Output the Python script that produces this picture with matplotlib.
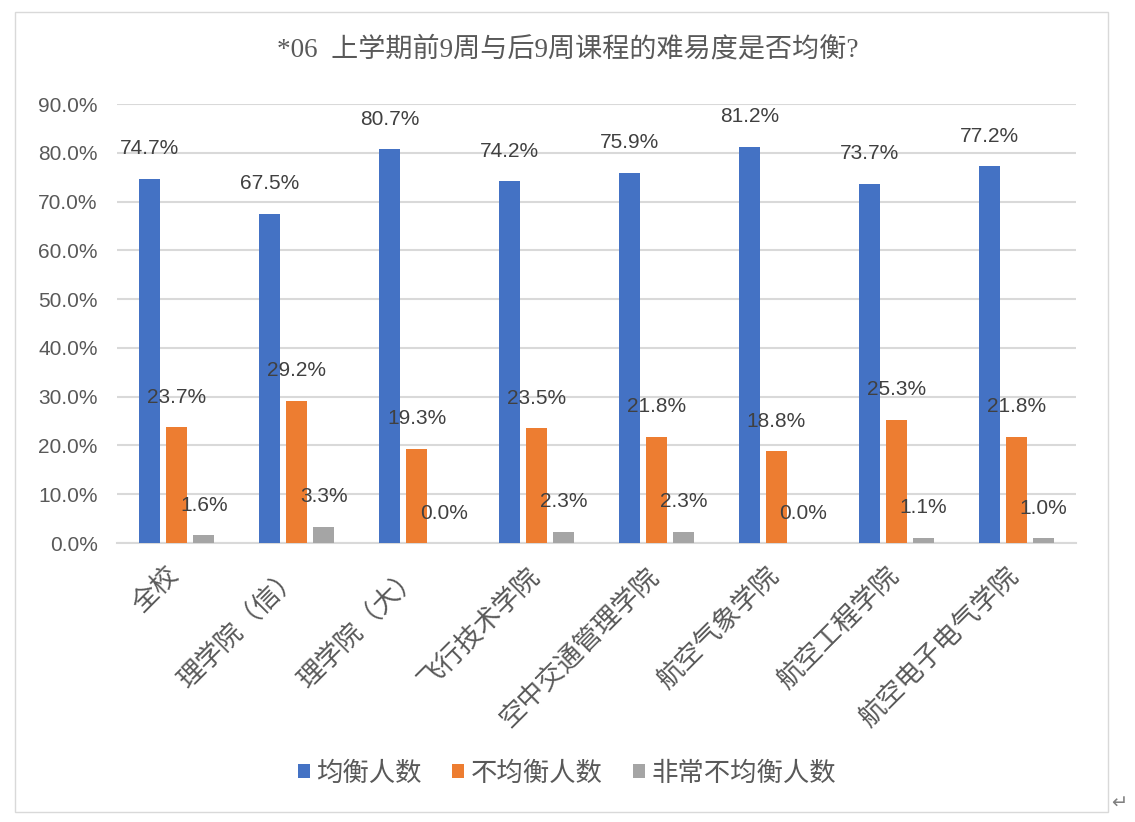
import matplotlib
matplotlib.use("Agg")
import matplotlib.pyplot as plt
import numpy as np
from matplotlib.patches import Rectangle

categories = ["全校", "理学院（信）", "理学院（大）", "飞行技术学院", "空中交通管理学院",
              "航空气象学院", "航空工程学院", "航空电子电气学院"]
series_names = ["均衡人数", "不均衡人数", "非常不均衡人数"]
balanced = [74.7, 67.5, 80.7, 74.2, 75.9, 81.2, 73.7, 77.2]
unbalanced = [23.7, 29.2, 19.3, 23.5, 21.8, 18.8, 25.3, 21.8]
very_unbalanced = [1.6, 3.3, 0.0, 2.3, 2.3, 0.0, 1.1, 1.0]
yticks = [0, 10, 20, 30, 40, 50, 60, 70, 80, 90]
title = "*06  上学期前9周与后9周课程的难易度是否均衡?"

colors = ["#4472C4", "#ED7D31", "#A5A5A5"]
txt = "#595959"
num_font = ["Liberation Sans Narrow", "Liberation Sans", "Noto Sans CJK SC"]
cjk_font = ["Noto Sans CJK SC", "DejaVu Sans"]
title_font = ["Liberation Serif", "Noto Sans CJK SC"]

fig = plt.figure(figsize=(11.35, 8.22), dpi=100)
fig.patches.append(Rectangle((15/1135, 1-812/822), (1108-15)/1135, (812-12)/822,
                             transform=fig.transFigure, fill=False,
                             edgecolor="#D9D9D9", linewidth=1.0))

ax = fig.add_axes([117/1135, 1-543/822, (1076-117)/1135, (543-104)/822])
x = np.arange(len(categories))
width = 0.175
step = 0.225
for i, (vals, name) in enumerate(zip([balanced, unbalanced, very_unbalanced], series_names)):
    pos = x + (i - 1) * step
    ax.bar(pos, vals, width=width, color=colors[i], label=name, zorder=3)
    for px, v in zip(pos, vals):
        ax.annotate(f"{v:.1f}%", (px, v), xytext=(0, 21.6), textcoords="offset points",
                    ha="center", va="center", fontsize=15, color="#404040",
                    family=num_font, zorder=4)

ax.set_xlim(-0.5, len(categories) - 0.5)
ax.set_ylim(0, 90)
ax.set_yticks(yticks)
ax.set_yticklabels([f"{t:.1f}%" for t in yticks], family=num_font, fontsize=15, color=txt)
ax.yaxis.grid(True, color="#D9D9D9", linewidth=1.5, zorder=0)
ax.tick_params(axis="y", length=0, pad=14)
ax.tick_params(axis="x", length=0, pad=14)
for s in ["top", "right", "left"]:
    ax.spines[s].set_visible(False)
ax.spines["bottom"].set_color("#D9D9D9")
ax.spines["bottom"].set_linewidth(1.5)
ax.set_xticks(x - 0.09)
ax.set_xticklabels(categories, rotation=45, ha="right", va="top", rotation_mode="anchor",
                   family=cjk_font, fontsize=19.2, color=txt)

fig.text(568/1135, 1-50/822, title, ha="center", va="center", fontsize=19.5, color=txt,
         family=title_font)

leg = fig.legend(loc="center", bbox_to_anchor=(567/1135, 1-773/822), ncol=3, frameon=False,
                 prop={"family": cjk_font, "size": 19}, handlelength=0.45, handleheight=0.45,
                 handletextpad=0.25, columnspacing=1.15)
for t in leg.get_texts():
    t.set_color(txt)

fig.text(1119/1135, 1-803/822, "↵", ha="center", va="center", fontsize=14, color="#808080",
         family=["DejaVu Sans"])

fig.savefig("out.png", dpi=100)
